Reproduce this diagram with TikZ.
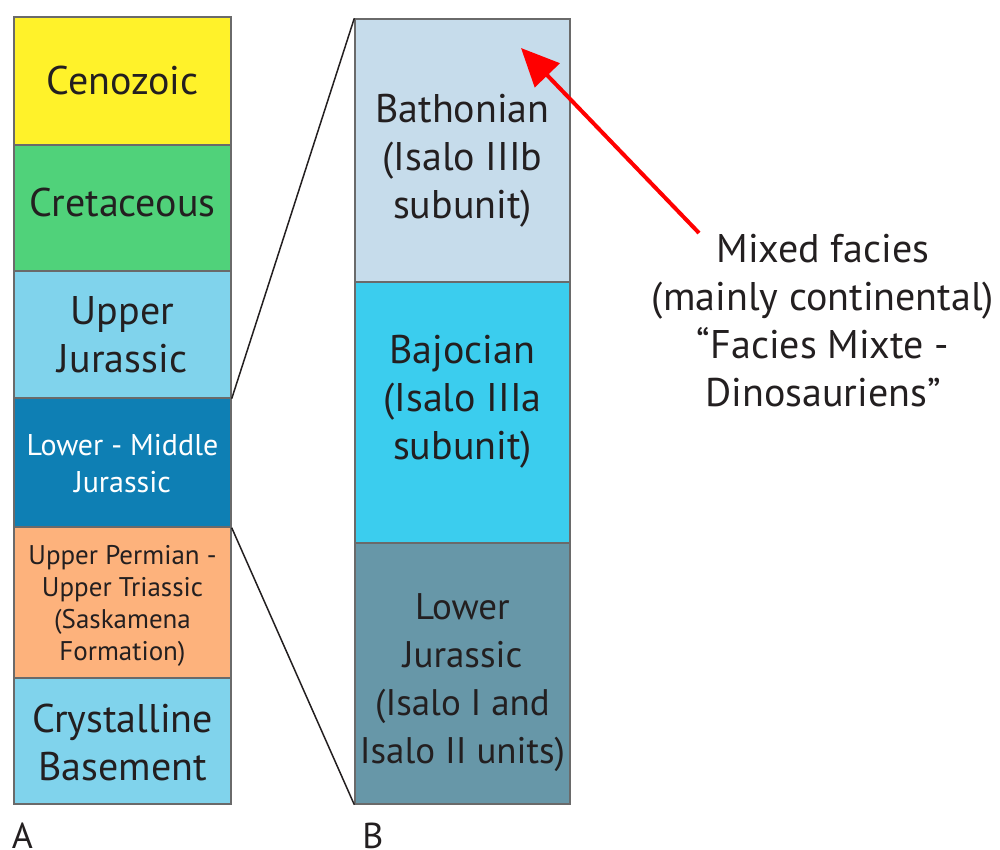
\documentclass[tikz,border=0pt]{standalone}
\usepackage{fontspec}
\setmainfont{PT Sans}
\usetikzlibrary{arrows.meta}
\definecolor{cyel}{HTML}{FFF22A}
\definecolor{cgrn}{HTML}{50D27A}
\definecolor{cltb}{HTML}{80D3EC}
\definecolor{cdkb}{HTML}{0E7FB4}
\definecolor{cora}{HTML}{FDB27C}
\definecolor{cbath}{HTML}{C6DCEB}
\definecolor{cbaj}{HTML}{3BCDEE}
\definecolor{clj}{HTML}{6797A8}
\definecolor{cbord}{HTML}{6A6A6A}
\definecolor{ctext}{HTML}{231F20}
\tikzset{
  layer/.style={draw=cbord, line width=1.4pt, inner sep=0pt},
  txt/.style={inner sep=0pt, align=center, text=ctext},
  bigtext/.style={font=\fontsize{40}{48}\selectfont},
  smalltext/.style={font=\fontsize{27}{32}\selectfont},
  midtext/.style={font=\fontsize{30}{37}\selectfont},
  zoomline/.style={draw=ctext, line width=1.5pt},
  redarrow/.style={draw=red, line width=4pt, -{Triangle[length=38pt,width=34pt]}, red}
}
\begin{document}
\begin{tikzpicture}[x=1pt,y=-1pt]
\useasboundingbox (0,0) rectangle (1000,850);
% column A boxes
\node[layer, fill=cyel, minimum width=217, minimum height=128] (ceno) at (122.5,81) {};
\node[layer, fill=cgrn, minimum width=217, minimum height=126] (cret) at (122.5,208) {};
\node[layer, fill=cltb, minimum width=217, minimum height=127] (uj) at (122.5,334.5) {};
\node[layer, fill=cdkb, minimum width=217, minimum height=129] (lmj) at (122.5,462.5) {};
\node[layer, fill=cora, minimum width=217, minimum height=151] (perm) at (122.5,602.5) {};
\node[layer, fill=cltb, minimum width=217, minimum height=126] (cryst) at (122.5,741) {};
% column B boxes
\node[layer, fill=cbath, minimum width=215, minimum height=263] (bath) at (462.5,150.5) {};
\node[layer, fill=cbaj, minimum width=215, minimum height=261] (baj) at (462.5,412.5) {};
\node[layer, fill=clj, minimum width=215, minimum height=261] (lowj) at (462.5,673.5) {};
% texts A
\node[txt, bigtext] (tceno) at (122.5,81) {Cenozoic};
\node[txt, bigtext] (tcret) at (122.5,203) {Cretaceous};
\node[txt, bigtext] (tuj) at (122.5,334.5) {Upper\\Jurassic};
\node[txt, midtext, text=white] (tlmj) at (122.5,463.5) {Lower - Middle\\Jurassic};
\node[txt, smalltext] (tperm) at (122.5,605.5) {Upper Permian -\\Upper Triassic\\(Saskamena\\Formation)};
\node[txt, bigtext] (tcryst) at (122.5,742) {Crystalline\\Basement};
% texts B
\node[txt, bigtext] (tbath) at (462.5,161) {Bathonian\\(Isalo IIIb\\subunit)};
\node[txt, bigtext] (tbaj) at (462.5,402) {Bajocian\\(Isalo IIIa\\subunit)};
\node[txt, font=\fontsize{37}{48}\selectfont] (tlowj) at (462.5,683) {Lower\\Jurassic\\(Isalo I and\\Isalo II units)};
% zoom lines
\draw[zoomline] (uj.south east) -- (bath.north west);
\draw[zoomline] (lmj.south east) -- (lowj.south west);
% labels
\node[font=\fontsize{36}{40}\selectfont, text=ctext, anchor=base, inner sep=0pt] (labA) at (22.5,848) {A};
\node[font=\fontsize{36}{40}\selectfont, text=ctext, anchor=base, inner sep=0pt] (labB) at (373,848) {B};
% annotation
\node[txt, bigtext] (facies) at (823,321) {Mixed facies\\(mainly continental)\\“Facies Mixte -\\Dinosauriens”};
\coordinate (tail) at (699,233);
\coordinate (tip) at (521,48);
\draw[redarrow] (tail) -- (tip);
\end{tikzpicture}
\end{document}
